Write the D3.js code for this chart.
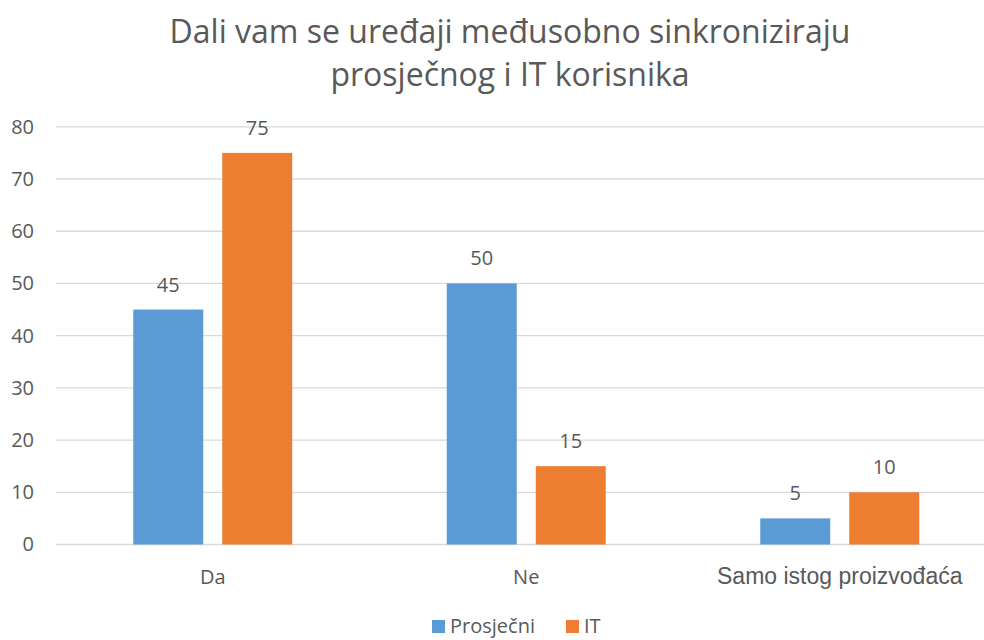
<!DOCTYPE html>
<html>
<head>
<meta charset="utf-8">
<script src="https://cdn.jsdelivr.net/npm/d3@7"></script>
<style>
  body { margin: 0; background: #fff; }
  svg { display: block; }
</style>
</head>
<body>
<div id="chart"></div>
<script>
var categories = ["Da", "Ne", "Samo istog proizvođaća"];
var series = ["Prosječni", "IT"];
var prosjecni = [45, 50, 5];
var it = [75, 15, 10];
var yTicks = [0, 10, 20, 30, 40, 50, 60, 70, 80];
var color = ["#5B9BD5", "#ED7D31"];

var width = 984, height = 640;
var textColor = "#595959";
var font = "'Open Sans', sans-serif";

var svg = d3.select("#chart")
    .append("svg")
    .attr("width", width)
    .attr("height", height);

var rows = categories.map((c, i) => ({cat: c, values: [prosjecni[i], it[i]]}));

var x = d3.scaleBand()
    .domain(categories)
    .range([56, 996.5]);

var x1 = d3.scaleBand()
    .domain(series)
    .range([x.bandwidth() / 2 - 79.5, x.bandwidth() / 2 + 79.5])
    .paddingInner(19 / 89);

var y = d3.scaleLinear()
    .domain([0, 80])
    .range([544.5, 126.8]);

// gridlines
svg.append("g")
    .selectAll("line")
    .data(yTicks)
    .join("line")
    .attr("x1", 56)
    .attr("x2", width)
    .attr("y1", d => y(d))
    .attr("y2", d => y(d))
    .attr("stroke", "#D9D9D9")
    .attr("stroke-width", 1.3);

// y axis labels
var yAxis = svg.append("g")
    .attr("transform", "translate(34,0)")
    .call(d3.axisLeft(y).tickValues(yTicks).tickSize(0).tickPadding(0));
yAxis.select(".domain").remove();
yAxis.selectAll("text")
    .attr("fill", textColor)
    .style("font", "20px " + font);

// bars
var groups = svg.append("g")
    .selectAll("g")
    .data(rows)
    .join("g")
    .attr("transform", d => "translate(" + x(d.cat) + ",0)");

groups.selectAll("rect")
    .data(d => d.values.map((v, i) => ({s: series[i], v: v, i: i})))
    .join("rect")
    .attr("x", d => x1(d.s))
    .attr("y", d => y(d.v))
    .attr("width", x1.bandwidth())
    .attr("height", d => y(0) - y(d.v))
    .attr("fill", d => color[d.i]);

groups.selectAll("text.val")
    .data(d => d.values.map((v, i) => ({s: series[i], v: v})))
    .join("text")
    .attr("class", "val")
    .attr("x", d => x1(d.s) + x1.bandwidth() / 2)
    .attr("y", d => y(d.v) - 18)
    .attr("text-anchor", "middle")
    .attr("fill", textColor)
    .style("font", "20px " + font)
    .text(d => d.v);

// x axis labels
svg.append("g")
    .selectAll("text")
    .data(categories)
    .join("text")
    .attr("x", d => x(d) + x.bandwidth() / 2)
    .attr("y", 584)
    .attr("text-anchor", "middle")
    .attr("fill", textColor)
    .style("font", (d, i) => i == 2 ? "23px 'Liberation Sans', Arial, sans-serif" : "20px " + font)
    .text(d => d);

// title
svg.append("text")
    .attr("x", 510)
    .attr("text-anchor", "middle")
    .attr("fill", textColor)
    .style("font", "32px " + font)
    .selectAll("tspan")
    .data(["Dali vam se uređaji međusobno sinkroniziraju", "prosječnog i IT korisnika"])
    .join("tspan")
    .attr("x", 510)
    .attr("y", (d, i) => 43 + i * 43)
    .text(d => d);

// legend
var legend = svg.append("g");
var legendX = [432, 566];
series.forEach((s, i) => {
    legend.append("rect")
        .attr("x", legendX[i])
        .attr("y", 620)
        .attr("width", 13)
        .attr("height", 13)
        .attr("fill", color[i]);
    legend.append("text")
        .attr("x", legendX[i] + 18)
        .attr("y", 633)
        .attr("fill", textColor)
        .style("font", "20px " + font)
        .text(s);
});
</script>
</body>
</html>
